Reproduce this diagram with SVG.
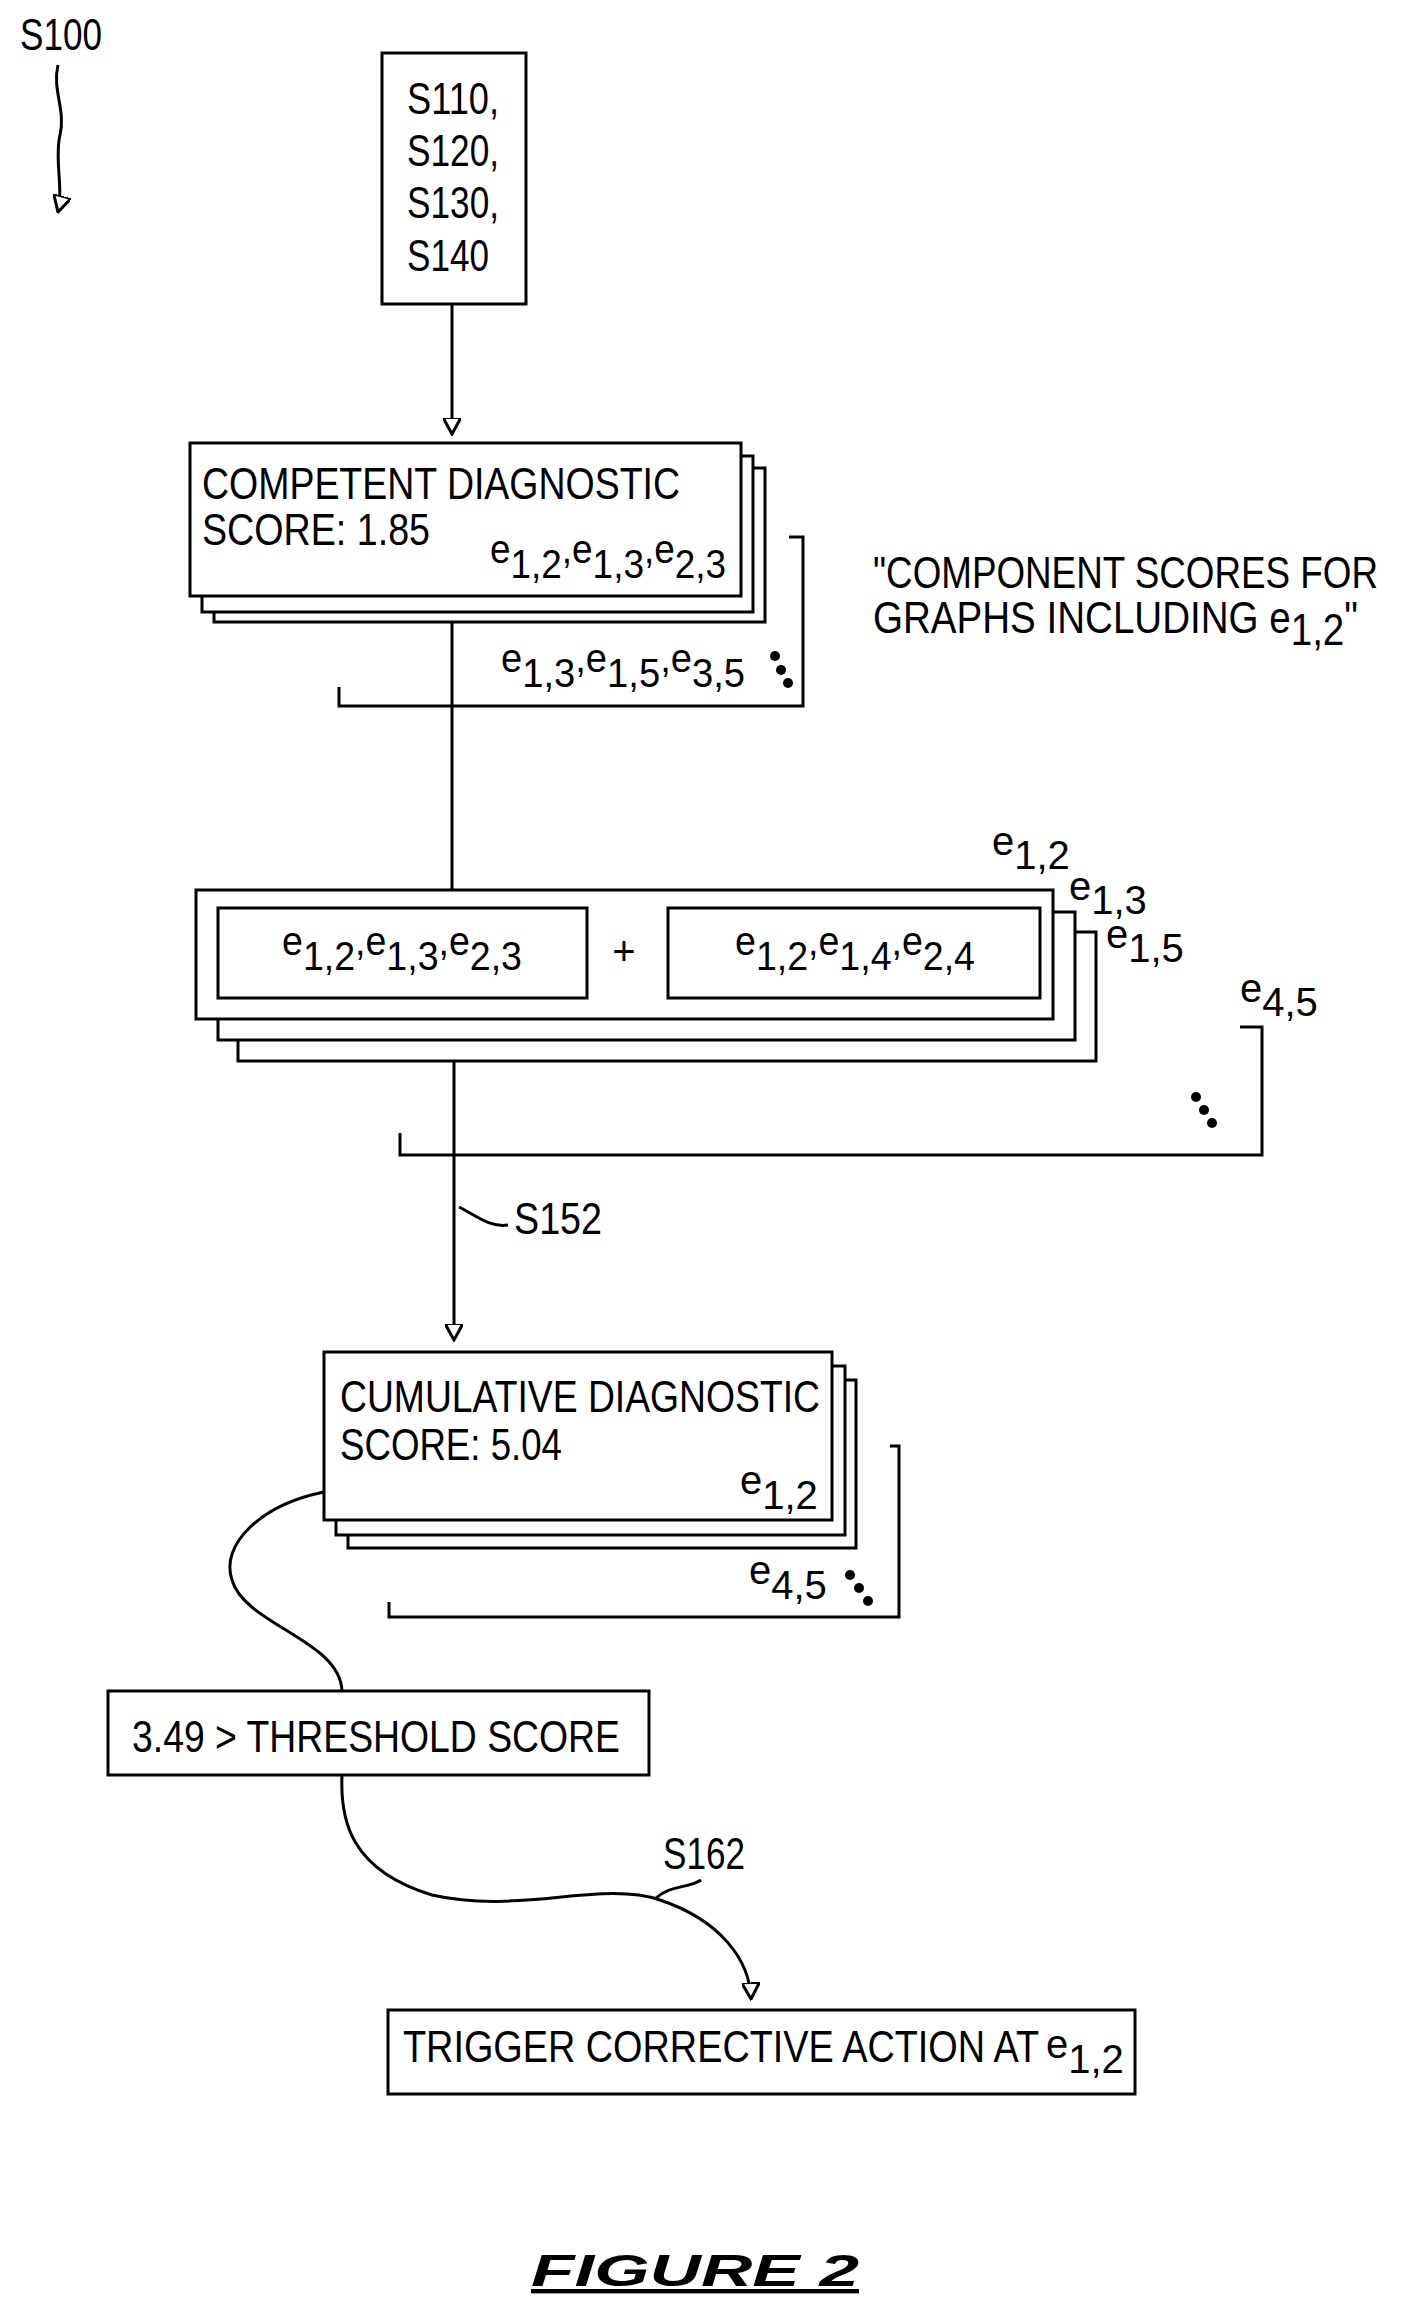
<svg xmlns="http://www.w3.org/2000/svg" width="1403" height="2311" viewBox="0 0 1403 2311">
<style>
text{font-family:"Liberation Sans",Arial,sans-serif;fill:#000;font-size:44px}
.box{fill:#fff;stroke:#000;stroke-width:3}
.ln{fill:none;stroke:#000;stroke-width:3}
.dot{fill:#000}
.sm{font-size:40px}
</style>
<defs>
<marker id="av" viewBox="0 0 12 12" refX="11" refY="6" markerWidth="18" markerHeight="18" markerUnits="userSpaceOnUse" orient="auto">
<path d="M0,0 L11,6 L0,12 Z" fill="#fff" stroke="#000" stroke-width="2"/>
</marker>
</defs>
<rect width="1403" height="2311" fill="#fff"/>
<g id="connectors">
<path class="ln" d="M58,65 C52,90 66,110 60,135 C54,160 64,190 58,212" marker-end="url(#av)"/>
<path class="ln" d="M452,304 L452,434" marker-end="url(#av)"/>
<path class="ln" d="M452,622 L452,890"/>
<path class="ln" d="M454,1061 L454,1340" marker-end="url(#av)"/>
<path class="ln" d="M459,1207 C475,1215 490,1228 508,1225"/>
<path class="ln" d="M324,1492 C260,1505 220,1545 232,1580 C245,1625 340,1640 342,1691"/>
<path class="ln" d="M342,1775 C340,1820 350,1870 432,1895 C520,1915 600,1880 660,1900 C720,1920 750,1960 751,1999" marker-end="url(#av)"/>
<path class="ln" d="M656,1898 C670,1885 690,1888 701,1880"/>
<path class="ln" d="M339,687 L339,706 L803,706 L803,537 L789,537"/>
<path class="ln" d="M400,1133 L400,1155 L1262,1155 L1262,1027 L1240,1027"/>
<path class="ln" d="M389,1602 L389,1617 L899,1617 L899,1446 L890,1446"/>
</g>
<g id="s100"><text x="20" y="50" textLength="82" lengthAdjust="spacingAndGlyphs">S100</text></g>
<g id="steps">
<rect class="box" x="382" y="53" width="144" height="251"/>
<text x="407" y="114" textLength="92" lengthAdjust="spacingAndGlyphs">S110,</text>
<text x="407" y="166" textLength="92" lengthAdjust="spacingAndGlyphs">S120,</text>
<text x="407" y="218" textLength="92" lengthAdjust="spacingAndGlyphs">S130,</text>
<text x="407" y="271" textLength="82" lengthAdjust="spacingAndGlyphs">S140</text>
</g>
<g id="competent">
<rect class="box" x="214" y="468" width="551" height="154"/>
<rect class="box" x="202" y="456" width="551" height="156"/>
<rect class="box" x="190" y="443" width="551" height="153"/>
<text x="202" y="499" textLength="478" lengthAdjust="spacingAndGlyphs">COMPETENT DIAGNOSTIC</text>
<text x="202" y="545" textLength="228" lengthAdjust="spacingAndGlyphs">SCORE: 1.85</text>
<text x="490" y="563" class="sm" textLength="236" lengthAdjust="spacingAndGlyphs">e<tspan dy="15">1,2</tspan><tspan dy="-15">,e</tspan><tspan dy="15">1,3</tspan><tspan dy="-15">,e</tspan><tspan dy="15">2,3</tspan></text>
<text x="501" y="672" class="sm" textLength="244" lengthAdjust="spacingAndGlyphs">e<tspan dy="15">1,3</tspan><tspan dy="-15">,e</tspan><tspan dy="15">1,5</tspan><tspan dy="-15">,e</tspan><tspan dy="15">3,5</tspan></text>
<circle cx="775" cy="656" r="5" class="dot"/><circle cx="781" cy="670" r="5" class="dot"/><circle cx="788" cy="683" r="5" class="dot"/>
</g>
<g id="note">
<text x="873" y="588" textLength="505" lengthAdjust="spacingAndGlyphs">"COMPONENT SCORES FOR</text>
<text x="873" y="633" textLength="485" lengthAdjust="spacingAndGlyphs">GRAPHS INCLUDING e<tspan dy="12">1,2</tspan><tspan dy="-12">"</tspan></text>
</g>
<g id="sum">
<rect class="box" x="238" y="932" width="858" height="129"/>
<rect class="box" x="218" y="912" width="857" height="128"/>
<rect class="box" x="196" y="890" width="857" height="129"/>
<rect class="box" x="218" y="908" width="369" height="90"/>
<rect class="box" x="668" y="908" width="372" height="90"/>
<text x="282" y="955" class="sm" textLength="240" lengthAdjust="spacingAndGlyphs">e<tspan dy="15">1,2</tspan><tspan dy="-15">,e</tspan><tspan dy="15">1,3</tspan><tspan dy="-15">,e</tspan><tspan dy="15">2,3</tspan></text>
<text x="624" y="965" text-anchor="middle" class="sm">+</text>
<text x="735" y="955" class="sm" textLength="240" lengthAdjust="spacingAndGlyphs">e<tspan dy="15">1,2</tspan><tspan dy="-15">,e</tspan><tspan dy="15">1,4</tspan><tspan dy="-15">,e</tspan><tspan dy="15">2,4</tspan></text>
<text x="992" y="855" class="sm">e<tspan dy="14">1,2</tspan></text>
<text x="1069" y="900" class="sm">e<tspan dy="14">1,3</tspan></text>
<text x="1106" y="948" class="sm">e<tspan dy="14">1,5</tspan></text>
<text x="1240" y="1002" class="sm">e<tspan dy="14">4,5</tspan></text>
<circle cx="1196" cy="1097" r="5" class="dot"/><circle cx="1204" cy="1110" r="5" class="dot"/><circle cx="1212" cy="1123" r="5" class="dot"/>
</g>
<g id="s152"><text x="514" y="1234" textLength="88" lengthAdjust="spacingAndGlyphs">S152</text></g>
<g id="cumulative">
<rect class="box" x="348" y="1380" width="508" height="168"/>
<rect class="box" x="336" y="1366" width="509" height="169"/>
<rect class="box" x="324" y="1352" width="508" height="168"/>
<text x="340" y="1412" textLength="480" lengthAdjust="spacingAndGlyphs">CUMULATIVE DIAGNOSTIC</text>
<text x="340" y="1460" textLength="222" lengthAdjust="spacingAndGlyphs">SCORE: 5.04</text>
<text x="740" y="1494" class="sm">e<tspan dy="15">1,2</tspan></text>
<text x="749" y="1584" class="sm">e<tspan dy="15">4,5</tspan></text>
<circle cx="850" cy="1575" r="5" class="dot"/><circle cx="859" cy="1588" r="5" class="dot"/><circle cx="868" cy="1601" r="5" class="dot"/>
</g>
<g id="threshold">
<rect class="box" x="108" y="1691" width="541" height="84"/>
<text x="132" y="1752" textLength="488" lengthAdjust="spacingAndGlyphs">3.49 &gt; THRESHOLD SCORE</text>
</g>
<g id="s162"><text x="663" y="1869" textLength="82" lengthAdjust="spacingAndGlyphs">S162</text></g>
<g id="trigger">
<rect class="box" x="388" y="2010" width="747" height="84"/>
<text x="403" y="2062" textLength="636" lengthAdjust="spacingAndGlyphs">TRIGGER CORRECTIVE ACTION AT</text>
<text x="1046" y="2058" class="sm">e<tspan dy="15">1,2</tspan></text>
</g>
<g id="caption">
<text x="531" y="2286" font-size="66" font-weight="bold" font-style="italic" text-decoration="underline" textLength="328" lengthAdjust="spacingAndGlyphs">FIGURE 2</text>
</g>
</svg>
